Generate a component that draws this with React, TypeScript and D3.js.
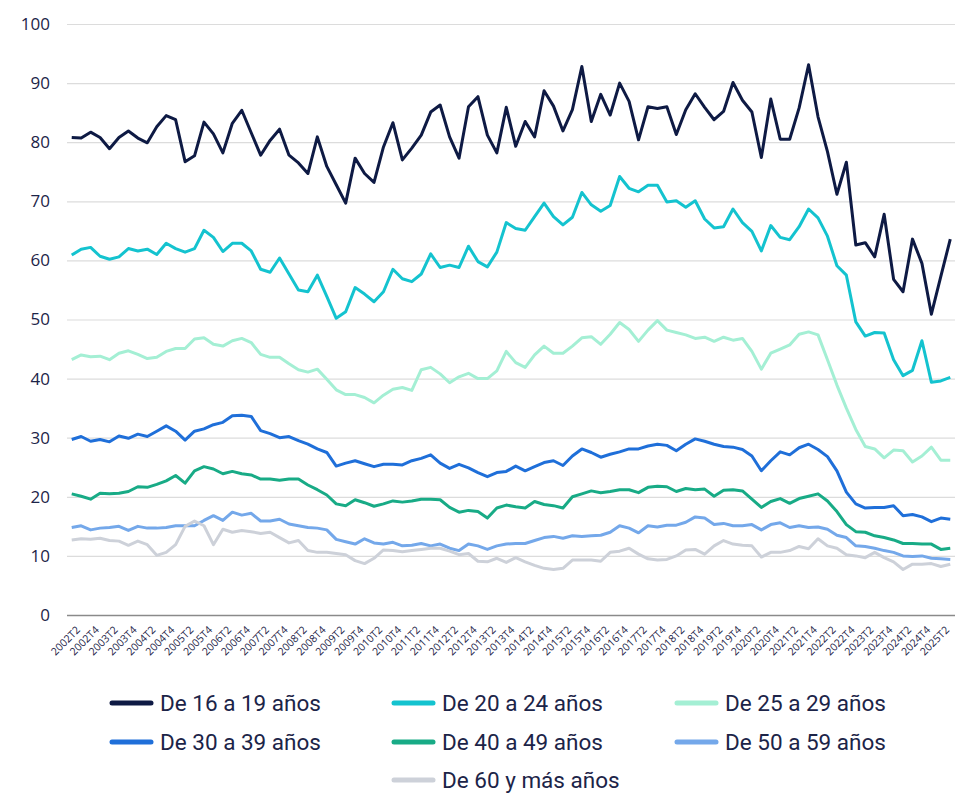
import React, { useRef, useEffect } from 'react'
import * as d3 from 'd3'

// trimestres 2002T1 .. 2025T2
const quarters = d3
  .range(2002, 2026)
  .flatMap(y => ['T1', 'T2', 'T3', 'T4'].map(q => `${y}${q}`))
  .slice(0, 94)

const yTicks = [0, 10, 20, 30, 40, 50, 60, 70, 80, 90, 100]

const age16_19 = [
  80.8, 80.7, 81.7, 80.8, 78.9, 80.8, 81.9, 80.7, 79.9, 82.6,
  84.5, 83.8, 76.7, 77.7, 83.4, 81.4, 78.2, 83.2, 85.4, 81.6,
  77.8, 80.3, 82.2, 77.8, 76.5, 74.7, 80.9, 75.9, 72.8, 69.7,
  77.3, 74.7, 73.2, 79.2, 83.3, 77.0, 79.0, 81.2, 85.1, 86.3,
  80.9, 77.3, 86.0, 87.7, 81.2, 78.2, 85.9, 79.3, 83.5, 80.9,
  88.7, 86.1, 81.9, 85.5, 92.8, 83.5, 88.1, 84.6, 90.0, 86.9,
  80.4, 86.0, 85.7, 86.0, 81.3, 85.5, 88.2, 85.9, 83.8, 85.2,
  90.1, 87.1, 85.1, 77.4, 87.3, 80.5, 80.5, 85.8, 93.1, 84.3,
  78.4, 71.2, 76.6, 62.6, 63.0, 60.6, 67.8, 56.8, 54.7, 63.6,
  59.5, 50.9, 57.3, 63.6
]
const age20_24 = [
  60.9, 61.9, 62.2, 60.7, 60.2, 60.6, 62.0, 61.6, 61.9, 61.0,
  62.9, 62.0, 61.4, 62.0, 65.1, 63.9, 61.5, 62.9, 62.9, 61.6,
  58.5, 58.0, 60.4, 57.7, 55.0, 54.7, 57.5, 53.9, 50.2, 51.3,
  55.4, 54.3, 53.0, 54.7, 58.5, 56.9, 56.4, 57.7, 61.1, 58.8,
  59.2, 58.8, 62.4, 59.8, 58.9, 61.4, 66.4, 65.4, 65.1, 67.4,
  69.7, 67.4, 66.0, 67.3, 71.5, 69.4, 68.3, 69.3, 74.2, 72.2,
  71.6, 72.7, 72.7, 69.9, 70.1, 69.0, 70.1, 67.0, 65.5, 65.7,
  68.7, 66.4, 64.9, 61.6, 65.9, 63.9, 63.5, 65.7, 68.7, 67.2,
  64.1, 59.1, 57.5, 49.6, 47.2, 47.8, 47.7, 43.2, 40.5, 41.4,
  46.4, 39.4, 39.6, 40.2
]
const age25_29 = [
  43.2, 44.0, 43.7, 43.8, 43.2, 44.3, 44.7, 44.1, 43.4, 43.6,
  44.6, 45.1, 45.1, 46.7, 46.9, 45.8, 45.5, 46.4, 46.8, 46.1,
  44.1, 43.6, 43.6, 42.5, 41.5, 41.1, 41.6, 39.9, 38.1, 37.3,
  37.3, 36.8, 35.9, 37.2, 38.2, 38.5, 38.0, 41.5, 41.9, 40.8,
  39.3, 40.3, 40.9, 40.0, 40.0, 41.3, 44.6, 42.7, 41.9, 44.0,
  45.5, 44.3, 44.3, 45.5, 46.9, 47.1, 45.8, 47.5, 49.5, 48.3,
  46.3, 48.2, 49.8, 48.2, 47.8, 47.4, 46.8, 47.0, 46.3, 47.0,
  46.5, 46.8, 44.6, 41.6, 44.3, 45.0, 45.7, 47.5, 47.9, 47.4,
  43.2, 38.9, 35.0, 31.4, 28.5, 28.1, 26.6, 27.9, 27.8, 25.9,
  26.9, 28.4, 26.2, 26.2
]
const age30_39 = [
  29.7, 30.2, 29.4, 29.7, 29.3, 30.3, 29.9, 30.6, 30.2, 31.1,
  32.0, 31.1, 29.6, 31.1, 31.5, 32.2, 32.6, 33.7, 33.8, 33.6,
  31.2, 30.7, 30.0, 30.2, 29.5, 28.9, 28.1, 27.5, 25.2, 25.7,
  26.1, 25.6, 25.1, 25.5, 25.5, 25.4, 26.1, 26.5, 27.1, 25.7,
  24.8, 25.5, 24.9, 24.1, 23.4, 24.1, 24.3, 25.2, 24.4, 25.1,
  25.8, 26.1, 25.3, 26.9, 28.1, 27.5, 26.7, 27.2, 27.6, 28.1,
  28.1, 28.6, 28.9, 28.7, 27.8, 28.9, 29.8, 29.4, 28.9, 28.5,
  28.4, 28.0, 26.9, 24.4, 26.1, 27.6, 27.1, 28.3, 28.9, 28.0,
  26.8, 24.4, 20.8, 18.8, 18.1, 18.2, 18.2, 18.5, 16.8, 17.0,
  16.6, 15.8, 16.4, 16.2
]
const age40_49 = [
  20.5, 20.1, 19.6, 20.6, 20.5, 20.6, 20.9, 21.7, 21.6, 22.1,
  22.7, 23.6, 22.3, 24.4, 25.1, 24.7, 23.9, 24.3, 23.9, 23.7,
  23.0, 23.0, 22.8, 23.0, 23.0, 22.0, 21.2, 20.3, 18.8, 18.5,
  19.5, 19.0, 18.4, 18.8, 19.3, 19.1, 19.3, 19.6, 19.6, 19.5,
  18.2, 17.4, 17.7, 17.5, 16.4, 18.1, 18.6, 18.3, 18.1, 19.2,
  18.7, 18.5, 18.1, 20.0, 20.5, 21.0, 20.7, 20.9, 21.2, 21.2,
  20.7, 21.6, 21.8, 21.7, 20.9, 21.4, 21.2, 21.3, 20.1, 21.1,
  21.2, 21.0, 19.6, 18.2, 19.2, 19.7, 18.9, 19.7, 20.1, 20.5,
  19.3, 17.5, 15.3, 14.1, 14.0, 13.4, 13.1, 12.7, 12.1, 12.1,
  12.0, 12.0, 11.1, 11.3
]
const age50_59 = [
  14.8, 15.1, 14.4, 14.7, 14.8, 15.0, 14.3, 15.0, 14.7, 14.7,
  14.8, 15.1, 15.1, 15.1, 16.0, 16.8, 16.0, 17.4, 16.9, 17.2,
  15.9, 15.9, 16.2, 15.4, 15.1, 14.8, 14.7, 14.4, 12.8, 12.4,
  12.0, 12.9, 12.2, 12.0, 12.3, 11.7, 11.8, 12.1, 11.7, 12.0,
  11.3, 10.9, 12.0, 11.7, 11.1, 11.7, 12.0, 12.1, 12.1, 12.6,
  13.1, 13.3, 13.0, 13.4, 13.3, 13.4, 13.5, 14.0, 15.1, 14.7,
  13.9, 15.1, 14.9, 15.2, 15.2, 15.7, 16.6, 16.4, 15.3, 15.5,
  15.1, 15.1, 15.3, 14.4, 15.3, 15.6, 14.8, 15.1, 14.8, 14.9,
  14.5, 13.5, 13.1, 11.7, 11.6, 11.3, 10.9, 10.6, 10.0, 9.9,
  10.0, 9.6, 9.5, 9.4
]
const age60plus = [
  12.7, 12.9, 12.8, 13.0, 12.6, 12.5, 11.8, 12.5, 11.9, 10.1,
  10.6, 11.9, 15.0, 15.9, 15.1, 11.9, 14.5, 14.0, 14.3, 14.1,
  13.8, 14.0, 13.1, 12.2, 12.6, 10.9, 10.6, 10.6, 10.4, 10.2,
  9.2, 8.7, 9.6, 11.0, 10.9, 10.7, 10.9, 11.1, 11.3, 11.3,
  10.8, 10.2, 10.4, 9.1, 9.0, 9.6, 8.9, 9.7, 9.0, 8.4,
  7.9, 7.7, 7.9, 9.3, 9.3, 9.3, 9.1, 10.6, 10.8, 11.3,
  10.3, 9.5, 9.3, 9.4, 10.0, 11.0, 11.1, 10.3, 11.7, 12.6,
  12.0, 11.8, 11.7, 9.8, 10.6, 10.6, 10.9, 11.6, 11.2, 12.9,
  11.7, 11.3, 10.2, 10.0, 9.7, 10.6, 9.7, 9.0, 7.7, 8.6,
  8.6, 8.7, 8.2, 8.6
]

const seriesNames = [
  'De 16 a 19 años',
  'De 20 a 24 años',
  'De 25 a 29 años',
  'De 30 a 39 años',
  'De 40 a 49 años',
  'De 50 a 59 años',
  'De 60 y más años'
]
const seriesColors = ['#0e1a44', '#14c3cf', '#a4efd4', '#1f6fd9', '#18ab86', '#74a8ea', '#cdd1d9']
const seriesValues = [age16_19, age20_24, age25_29, age30_39, age40_49, age50_59, age60plus]

const WIDTH = 960
const HEIGHT = 795
const margin = { top: 24, right: 5, bottom: 180, left: 67 }
const textColor = '#1c2448'

const Chart = () => {
  const svgRef = useRef(null)

  useEffect(() => {
    const svg = d3.select(svgRef.current)
    svg.selectAll('*').remove()

    const x = d3
      .scalePoint()
      .domain(quarters)
      .range([margin.left, WIDTH - margin.right])
      .padding(0.5)

    const y = d3
      .scaleLinear()
      .domain([0, 100])
      .range([HEIGHT - margin.bottom, margin.top])

    // grid
    const yAxis = d3
      .axisLeft(y)
      .tickValues(yTicks)
      .tickSize(-(WIDTH - margin.left - margin.right))
      .tickPadding(17)
    const yAxisGroup = svg
      .append('g')
      .attr('transform', `translate(${margin.left},0)`)
      .call(yAxis)
    yAxisGroup.select('.domain').remove()
    yAxisGroup
      .selectAll('line')
      .attr('stroke', d => (d === 0 ? '#8a8a8a' : '#dcdcdc'))
      .attr('stroke-width', d => (d === 0 ? 1.4 : 1.2))
    yAxisGroup
      .selectAll('text')
      .attr('fill', textColor)
      .attr('font-size', 17)
      .attr('font-family', '"Open Sans", sans-serif')

    // x labels every other quarter (T2, T4)
    const labelQuarters = quarters.filter(q => q.endsWith('T2') || q.endsWith('T4'))
    svg
      .append('g')
      .selectAll('text')
      .data(labelQuarters)
      .enter()
      .append('text')
      .attr('transform', d => `translate(${x(d) - 3},${y(0) + 13}) rotate(-45)`)
      .attr('text-anchor', 'end')
      .attr('dy', '0.35em')
      .attr('fill', textColor)
      .attr('font-size', 10.5)
      .attr('font-family', '"Open Sans", sans-serif')
      .text(d => d)

    const line = d3
      .line()
      .x((d, i) => x(quarters[i]))
      .y(d => y(d))

    svg
      .append('g')
      .selectAll('path')
      .data(seriesValues)
      .enter()
      .append('path')
      .attr('fill', 'none')
      .attr('stroke', (d, i) => seriesColors[i])
      .attr('stroke-width', 3)
      .attr('stroke-linejoin', 'round')
      .attr('d', d => line(d))

    // legend
    const legendCols = [110, 392, 675]
    const legendRows = [703, 742, 780]
    const legendItems = seriesNames.map((name, i) => ({
      name,
      color: seriesColors[i],
      x: i === 6 ? legendCols[1] : legendCols[i % 3],
      y: legendRows[Math.floor(i / 3)]
    }))
    const legend = svg
      .append('g')
      .selectAll('g')
      .data(legendItems)
      .enter()
      .append('g')
      .attr('transform', d => `translate(${d.x},${d.y})`)
    legend
      .append('line')
      .attr('x1', 2)
      .attr('x2', 41)
      .attr('stroke', d => d.color)
      .attr('stroke-width', 5)
      .attr('stroke-linecap', 'round')
    legend
      .append('text')
      .attr('x', 50)
      .attr('dy', '0.35em')
      .attr('fill', textColor)
      .attr('font-size', 22.5)
      .attr('font-family', 'Roboto, sans-serif')
      .text(d => d.name)
  }, [])

  return (
    <svg
      ref={svgRef}
      width={WIDTH}
      height={HEIGHT}
      style={{ position: 'absolute', left: 0, top: 0, background: '#fff' }}
    />
  )
}

export default function App() {
  return <Chart />
}
